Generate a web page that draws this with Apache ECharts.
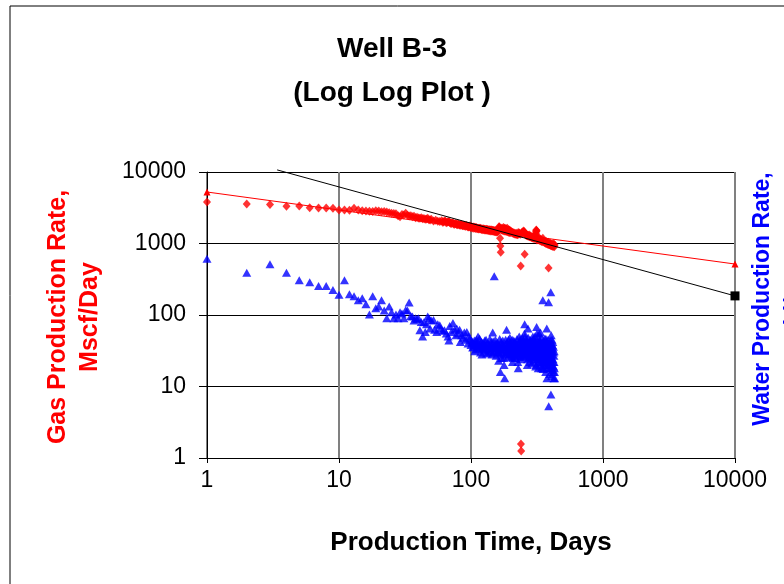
<!DOCTYPE html>
<html>
<head>
<meta charset="utf-8">
<script src="https://cdn.jsdelivr.net/npm/echarts@6/dist/echarts.min.js"></script>
<style>
  html, body { margin: 0; padding: 0; background: #ffffff; }
  #chart { width: 784px; height: 584px; }
</style>
</head>
<body>
<div id="chart"></div>
<script>
// Well B-3 production history: [day, rate]
const gasDays = [1,2,3,4,5,6,7,8,9,10,11,12,13,14,15,16,17,18,19,20,21,22,23,24,25,26,27,28,29,30,31,32,33,34,35,36,37,38,39,40,41,42,43,44,45,46,47,48,49,50,52,54,56,58,60,62,64,66,68,70,72,74,76,78,80,82,84,86,88,90,92,94,96,98,100,103,106,109,112,115,118,121,124,127,130,133,136,139,142,145,148,151,154,157,160,163,165,166,167,168,170,173,176,179,182,185,188,191,194,197,200,204,208,212,216,220,224,228,232,236,238,239,240,244,248,252,255,256,260,264,268,272,276,280,285,290,295,300,305,310,312,314,316,320,325,330,335,340,345,350,355,360,365,370,375,380,385,387,390,395,400,405,410,415,420,425,430,
  61,63,65,67,69,71,73,75,77,79,81,83,85,87,89,91,93,95,97,99,101,102,104,105,107,108,110,111,113,114,116,117,119,120,122,123,125,126,128,129,131,132,134,135,137,138,140,141,143,144,146,147,149,150,152,153,155,156,158,159,161,162,164,169,171,172,174,175,177,178,180,181,183,184,186,187,189,190,192,193,195,196,198,199,202,206,210,214,218,222,226,230,234,242,246,250,254,258,262,266,270,274,278,282,288,292,298,302,307,309,311,313,318,322,328,332,338,342,348,352,358,362,368,372,378,382,388,392,398,402,408,412,418,422,428];
const gasRate = [3800,3560,3500,3330,3350,3170,3140,3140,3100,2950,2950,2920,3100,2950,2880,2850,2820,2800,2870,2850,2780,2800,2760,2700,2650,2620,2600,2450,2370,2550,2500,2650,2480,2420,2450,2370,2400,2300,2330,2280,2250,2300,2220,2240,2180,2200,2260,2150,2130,2180,2070,2120,2050,2030,2080,2000,2040,1980,2030,1920,1950,1880,1900,1850,1870,1820,1840,1790,1800,1760,1780,1740,1720,1750,1700,1690,1660,1680,1640,1620,1630,1600,1590,1580,1560,1570,1550,1540,1530,1520,1510,1500,1490,1480,1500,1720,1650,1180,922,753,1600,1560,1680,1640,1620,1600,1630,1560,1540,1520,1500,1450,1420,1400,1380,1390,1360,1420,1400,1350,484,1.57,1.25,1380,1420,1470,706,1400,1330,1320,1300,1290,1320,1280,1250,1240,1220,1250,1200,1380,1550,1500,1120,1200,1160,1180,1150,1120,1100,1180,1080,1060,1050,1070,1030,1020,1040,454,1000,990,1010,980,970,960,1000,970,950,
  1990,2060,1950,2010,1960,1900,1930,1860,1890,1830,1850,1800,1820,1770,1790,1740,1760,1700,1730,1680,1720,1650,1700,1640,1690,1620,1660,1610,1630,1600,1640,1590,1610,1570,1590,1560,1600,1550,1570,1540,1580,1530,1550,1520,1560,1510,1550,1500,1540,1490,1530,1480,1520,1470,1510,1460,1500,1450,1490,1460,1520,1620,1700,1560,1640,1530,1600,1520,1580,1500,1570,1490,1560,1480,1550,1470,1530,1460,1510,1440,1490,1430,1470,1420,1440,1400,1380,1360,1350,1340,1330,1370,1380,1410,1450,1500,1440,1360,1300,1280,1270,1260,1240,1230,1210,1190,1180,1170,1250,1330,1460,1520,1150,1130,1120,1100,1090,1070,1060,1090,1040,1030,1010,1000,990,980,970,960,950,940,930,920,910,920,900];

const waterDays = [1,2,3,4,5,6,7,8,9,10,11,12,13,14,15,16,17,18,19,20,21,22,23,24,25,26,27,28,29,30,31,32,33,34,35,36,37,38,39,40,41,42,43,44,45,46,47,48,49,50,52,53,55,56,58,59,61,63,65,67,68,69,71,73,75,77,78,80,82,83,85,87,89,91,93,95,96,98,100,102,104,106,108,110,112,113,115,117,118,120,122,124,126,128,130,132,135,137,140,142,144,146,148,150,152,154,156,158,160,162,164,166,167,169,171,173,175,177,180,182,184,186,188,190,192,194,196,198,200,202,204,207,209,211,213,215,217,219,222,224,226,228,230,232,234,236,238,240,243,246,249,252,255,256,258,260,262,265,268,270,272,275,278,280,283,286,290,292,294,297,300,303,306,308,310,312,314,316,318,320,322,325,328,330,333,336,338,340,342,345,348,350,352,354,356,358,360,362,365,368,370,372,375,376,378,380,382,384,387,388,390,392,394,396,398,400,402,403,405,406,408,410,412,414,416,418,420,422,424,426,428,430,
  101,103,105,107,109,111,114,116,119,121,123,125,127,129,131,134,136,139,141,143,145,147,149,151,153,155,157,159,161,163,165,168,170,172,174,176,178,179,181,183,185,187,189,191,193,195,197,199,201,203,205,206,208,210,212,214,216,218,220,221,223,225,227,229,231,233,235,237,239,241,242,244,245,247,248,250,251,253,254,257,259,261,263,264,266,267,269,271,273,274,276,277,279,281,282,284,285,287,288,289,291,293,295,296,298,299,301,302,304,305,307,309,311,313,315,317,319,321,323,324,326,327,329,331,332,334,335,337,339,341,343,344,346,347,349,351,353,355,357,359,361,363,364,366,367,369,371,373,374,377,379,381,383,385,386,389,391,393,395,397,399,401,404,407,409,411,413,415,417,419,421,423,425,427,429];
const waterRate = [612,391,512,391,305,287,255,255,224,192,305,195,183,161,171,141,102,183,124,132,161,116,90,132,109,90,102,90,109,105,90,117,116,150,97,95,84,90,88,90,61,80,50,79,58,74,95,90,65,84,85,62,58,74,72,65,60,61,55,50,44,70,58,77,62,52,65,55,62,42,52,48,57,45,58,40,50,47,38,42,36,44,33,45,38,50,35,40,30,42,34,37,39,32,45,36,30,38,33,42,28,57,35,347,32,40,39,30,36,23,34,28,16,42,30,35,38,25,13,33,40,62,36,30,45,28,35,42,32,26,38,25,34,44,30,36,27,40,39,31,22,18,33,50,42,29,35,26,38,31,44,36,74,50,28,34,40,30,24,65,34,38,28,45,32,26,36,30,50,40,28,35,24,42,32,20,68,55,30,26,38,22,45,33,28,57,40,24,18,35,30,161,17.5,26,44,32,21,38,28,16,46,34,65,13,25,40,20,30,151,5.3,36,22,15,28,44,18,208,7.7,52,26,14,32,20,38,42,24,16,30,13,22,18,13,
  44,35,40,31,38,42,34,47,36,28,41,33,44,37,29,40,34,46,31,37,35,43,30,37,45,27,34,41,30,38,46,33,25,38,44,31,20,36,28,45,35,30,40,26,37,33,48,29,40,34,45,22,31,37,28,42,33,25,38,30,46,27,35,40,29,36,45,31,24,39,33,28,48,35,30,41,26,33,55,38,31,45,27,36,42,20,33,48,30,25,40,35,22,38,30,44,28,35,21,42,26,38,32,46,23,36,30,42,27,50,33,19,40,28,36,45,24,34,18,40,30,55,26,38,21,44,30,25,36,48,28,22,40,32,19,37,26,42,30,23,35,47,27,20,38,30,24,42,33,18,36,28,45,22,32,26,40,18,34,24,37,29,21,40,25,45,28,17,34,22,36,19,27,31,16];

// Power-law fit to the gas rate and the decline extrapolation line
const gasFitX = [1, 10000];
const gasFitY = [5250, 516];
const declineX = [3.4, 10000];
const declineY = [10700, 185];

const xTicks = [1, 10, 100, 1000, 10000];
const yTicks = [1, 10, 100, 1000, 10000];

const pairs = (xs, ys) => xs.map((x, i) => [x, ys[i]]);
const plain = (v) => String(Math.round(v));

const FONT = '"Liberation Sans", Arial, sans-serif';

const chart = echarts.init(document.getElementById('chart'), null, { renderer: 'canvas' });

chart.setOption({
  backgroundColor: '#ffffff',
  animation: false,
  grid: { left: 207, right: 49, top: 172, bottom: 126, containLabel: false },
  title: {
    text: 'Well B-3\n(Log Log Plot )',
    left: 'center',
    top: 22,
    textStyle: { fontFamily: FONT, fontWeight: 'bold', fontSize: 28, color: '#000', lineHeight: 44 }
  },
  xAxis: {
    type: 'log',
    logBase: 10,
    min: xTicks[0],
    max: xTicks[xTicks.length - 1],
    axisLine: { show: true, lineStyle: { color: '#000', width: 1 } },
    axisTick: { show: true, length: 5, lineStyle: { color: '#000' } },
    axisLabel: { margin: 11, fontFamily: FONT, fontSize: 23, color: '#000', formatter: plain },
    splitLine: { show: true, lineStyle: { color: '#808080', width: 2 } },
    minorTick: { show: false },
    name: 'Production Time, Days',
    nameLocation: 'middle',
    nameGap: 72,
    nameTextStyle: { fontFamily: FONT, fontWeight: 'bold', fontSize: 26, color: '#000' }
  },
  yAxis: {
    type: 'log',
    logBase: 10,
    min: yTicks[0],
    max: yTicks[yTicks.length - 1],
    axisLine: { show: true, lineStyle: { color: '#000', width: 1 } },
    axisTick: { show: true, length: 8, lineStyle: { color: '#000' } },
    axisLabel: { margin: 21, fontFamily: FONT, fontSize: 23, color: '#000', formatter: plain },
    splitLine: { show: true, lineStyle: { color: '#000', width: 1 } }
  },
  graphic: [
    {
      type: 'rect',
      shape: { x: 10, y: 6, width: 900, height: 700 },
      style: { fill: 'none', stroke: '#000', lineWidth: 1 },
      silent: true, z: -10
    },
    {
      type: 'text',
      x: 74, y: 317,
      rotation: Math.PI / 2,
      style: {
        text: 'Gas Production Rate,\nMscf/Day',
        fill: '#ff0000',
        font: 'bold 25px ' + FONT,
        textAlign: 'center',
        textVerticalAlign: 'middle',
        lineHeight: 32
      }
    },
    {
      type: 'text',
      x: 779, y: 299,
      rotation: Math.PI / 2,
      style: {
        text: 'Water Production Rate,\nBbl/Day',
        fill: '#0000ff',
        font: 'bold 23px ' + FONT,
        textAlign: 'center',
        textVerticalAlign: 'middle',
        lineHeight: 32
      }
    }
  ],
  series: [
    {
      name: 'Water',
      type: 'scatter',
      data: pairs(waterDays, waterRate),
      symbol: 'triangle',
      symbolSize: [9, 8],
      itemStyle: { color: '#0000ff' },
      z: 3
    },
    {
      name: 'Gas',
      type: 'scatter',
      data: pairs(gasDays, gasRate),
      symbol: 'diamond',
      symbolSize: [8, 9],
      itemStyle: { color: '#ff0000' },
      z: 4
    },
    {
      name: 'Gas fit',
      type: 'line',
      data: pairs(gasFitX, gasFitY),
      symbol: 'triangle',
      symbolSize: 7,
      lineStyle: { color: '#ff0000', width: 1 },
      itemStyle: { color: '#ff0000' },
      z: 5
    },
    {
      name: 'Decline',
      type: 'line',
      clip: false,
      data: [
        { value: [declineX[0], declineY[0]], symbol: 'none' },
        { value: [declineX[1], declineY[1]], symbol: 'rect', symbolSize: 9 }
      ],
      lineStyle: { color: '#000', width: 1 },
      itemStyle: { color: '#000' },
      z: 6
    }
  ]
});
</script>
</body>
</html>
